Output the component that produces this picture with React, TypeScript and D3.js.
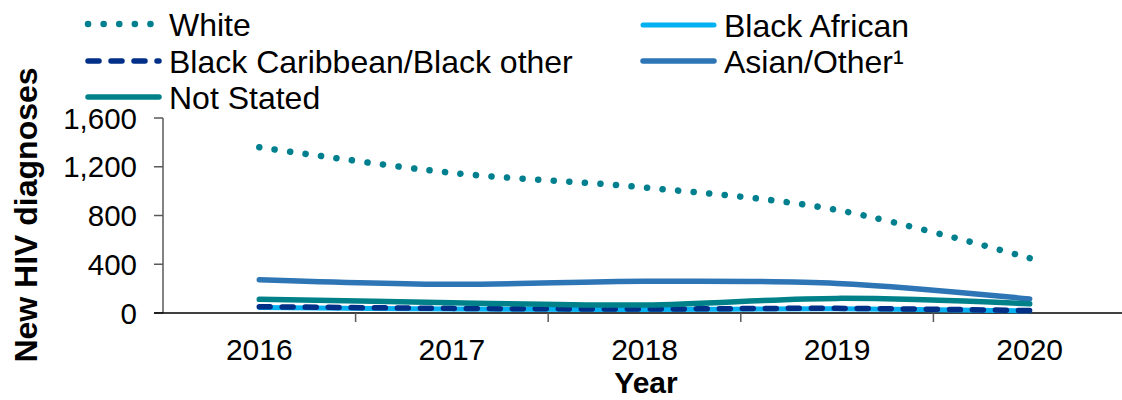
import React from "react";
import * as d3 from "d3";

// Years on the category axis
const years = ["2016", "2017", "2018", "2019", "2020"];

// New HIV diagnoses by ethnic group
const white = [1360, 1150, 1030, 845, 450];
const blackAfrican = [45, 32, 28, 34, 18];
const blackCaribbean = [52, 38, 33, 38, 20];
const asianOther = [273, 235, 260, 243, 115];
const notStated = [112, 85, 66, 120, 75];

const yTicks = [0, 400, 800, 1200, 1600];

type Series = {
  name: string;
  values: number[];
  color: string;
  dash?: string;
  width: number;
};

const series: Series[] = [
  { name: "White", values: white, color: "#00808f", dash: "0.1 15.5", width: 6.5 },
  { name: "Black African", values: blackAfrican, color: "#00b0f0", width: 5 },
  { name: "Black Caribbean/Black other", values: blackCaribbean, color: "#002f87", dash: "11 12", width: 5.5 },
  { name: "Asian/Other\u00b9", values: asianOther, color: "#2e75b6", width: 5.5 },
  { name: "Not Stated", values: notStated, color: "#00818a", width: 5.5 },
];

// Legend slots: two columns, filled row by row
const legendPos = [
  { x: 88, y: 24 },
  { x: 643, y: 25 },
  { x: 88, y: 61 },
  { x: 643, y: 61 },
  { x: 88, y: 97 },
];

const FONT = "'Liberation Sans', Arial, sans-serif";

export default function App() {
  const W = 1122;
  const H = 400;
  const left = 163;
  const right = 1126;
  const top = 118;
  const bottom = 313;

  const x = d3.scaleBand<string>().domain(years).range([left, right]).padding(0);
  const y = d3.scaleLinear().domain([0, 1600]).range([bottom, top]);
  const cx = (yr: string) => (x(yr) ?? 0) + x.bandwidth() / 2;

  const line = d3
    .line<number>()
    .x((_, i) => cx(years[i]))
    .y((v) => y(v))
    .curve(d3.curveCatmullRom.alpha(0.5));

  const fmt = d3.format(",");
  const boundaries = years.slice(1).map((yr) => x(yr) ?? 0);

  return (
    <svg
      width={W}
      height={H}
      style={{ position: "absolute", left: 0, top: 0, background: "#fff" }}
      fontFamily={FONT}
    >
      {/* legend */}
      {series.map((s, i) => {
        const p = legendPos[i];
        return (
          <g key={s.name}>
            <line
              x1={p.x}
              x2={p.x + 71}
              y1={p.y}
              y2={p.y}
              stroke={s.color}
              strokeWidth={s.width}
              strokeDasharray={s.dash}
              strokeLinecap="round"
            />
            <text x={p.x + 81} y={p.y} dy="0.36em" fontSize={32} fill="#000">
              {s.name}
            </text>
          </g>
        );
      })}

      {/* y axis */}
      <line x1={left} x2={left} y1={top} y2={bottom} stroke="#595959" strokeWidth={1.5} />
      {yTicks.map((t) => (
        <g key={t}>
          <line x1={left - 9} x2={left} y1={y(t)} y2={y(t)} stroke="#595959" strokeWidth={1.5} />
          <text x={137} y={y(t)} dy="0.36em" textAnchor="end" fontSize={29.5} fill="#000">
            {fmt(t)}
          </text>
        </g>
      ))}

      {/* x axis */}
      <line x1={left - 9} x2={W} y1={bottom} y2={bottom} stroke="#000" strokeWidth={1.5} />
      {boundaries.map((b, i) => (
        <line key={i} x1={b} x2={b} y1={bottom} y2={bottom + 9} stroke="#595959" strokeWidth={1.5} />
      ))}
      {years.map((yr) => (
        <text key={yr} x={cx(yr)} y={349} dy="0.36em" textAnchor="middle" fontSize={30} fill="#000">
          {yr}
        </text>
      ))}

      {/* axis titles */}
      <text x={646} y={382} dy="0.36em" textAnchor="middle" fontSize={30} fontWeight="bold" fill="#000">
        Year
      </text>
      <text
        transform={`translate(25,${215}) rotate(-90)`}
        textAnchor="middle"
        dy="0.36em"
        fontSize={32}
        fontWeight="bold"
        fill="#000"
      >
        New HIV diagnoses
      </text>

      {/* series lines */}
      {series.map((s) => (
        <path
          key={s.name}
          d={line(s.values) ?? ""}
          fill="none"
          stroke={s.color}
          strokeWidth={s.width}
          strokeDasharray={s.dash}
          strokeLinecap="round"
          strokeLinejoin="round"
        />
      ))}
    </svg>
  );
}
